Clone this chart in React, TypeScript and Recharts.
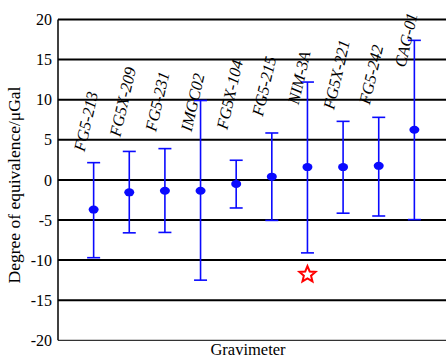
import React from 'react';
import {
  ComposedChart,
  Scatter,
  ErrorBar,
  XAxis,
  YAxis,
  ReferenceLine,
} from 'recharts';

const gravimeters = [
  'FG5-213',
  'FG5X-209',
  'FG5-231',
  'IMGC02',
  'FG5X-104',
  'FG5-215',
  'NIM-3A',
  'FG5X-221',
  'FG5-242',
  'CAG-01',
];
const doe = [-3.7, -1.55, -1.35, -1.35, -0.5, 0.4, 1.6, 1.6, 1.75, 6.25];
const lowerBound = [-9.7, -6.6, -6.55, -12.5, -3.5, -5.05, -9.1, -4.15, -4.5, -4.95];
const upperBound = [2.15, 3.55, 3.9, 9.9, 2.45, 5.85, 12.2, 7.3, 7.8, 17.4];
// height (μGal) where each rotated name starts
const labelAt = [3.45, 5.3, 5.95, 5.95, 6.2, 7.85, 9.3, 8.7, 9.3, 13.95];
const starAt = { name: 'NIM-3A', value: -11.8 };
const yTicks = [-20, -15, -10, -5, 0, 5, 10, 15, 20];

const BLUE = '#0a0aff';
const FONT = 'Liberation Serif, Times New Roman, serif';

const points = gravimeters.map((name, i) => ({
  x: i + 1,
  y: doe[i],
  err: [doe[i] - lowerBound[i], upperBound[i] - doe[i]],
}));
const labels = gravimeters.map((name, i) => ({ x: i + 1, y: labelAt[i], name }));
const star = [{ x: gravimeters.indexOf(starAt.name) + 1, y: starAt.value }];

const Dot = (props: any) => (
  <ellipse cx={props.cx} cy={props.cy} rx={5} ry={4} fill={BLUE} />
);

const NameLabel = (props: any) => {
  const x = props.cx - 9;
  const y = props.cy;
  return (
    <text
      x={x}
      y={y}
      transform={`rotate(-77 ${x} ${y})`}
      style={{ fontFamily: FONT, fontStyle: 'italic', fontSize: 16.5 }}
      fill="#000"
    >
      {props.payload.name}
    </text>
  );
};

const Star = (props: any) => {
  const { cx, cy } = props;
  const pts: string[] = [];
  for (let k = 0; k < 10; k++) {
    const r = k % 2 === 0 ? 8.5 : 3.8;
    const a = -Math.PI / 2 + (k * Math.PI) / 5;
    pts.push(`${cx + r * Math.cos(a)},${cy + r * Math.sin(a)}`);
  }
  return <polygon points={pts.join(' ')} fill="#fff" stroke="#ff0000" strokeWidth={2} />;
};

export default function App() {
  return (
    <div
      style={{
        position: 'absolute',
        left: 0,
        top: 0,
        width: 446,
        height: 358,
        overflow: 'hidden',
        background: '#fff',
        fontFamily: FONT,
      }}
    >
      <ComposedChart
        width={450}
        height={358}
        margin={{ top: 19.5, right: 0, bottom: 17.7, left: 0 }}
        style={{ fontFamily: FONT }}
      >
        <XAxis type="number" dataKey="x" domain={[0, 11]} hide />
        <YAxis
          type="number"
          dataKey="y"
          domain={[-20, 20]}
          ticks={yTicks}
          interval={0}
          width={58}
          axisLine={{ stroke: '#000', strokeWidth: 1.5 }}
          tickLine={false}
          tickSize={6}
          tickMargin={0}
          tick={{ fontSize: 16, fill: '#000', style: { fontFamily: FONT } }}
          label={{
            content: () => (
              <text
                x={20}
                y={185}
                transform="rotate(-90 20 185)"
                textAnchor="middle"
                style={{ fontFamily: FONT, fontSize: 17.5 }}
                fill="#000"
              >
                Degree of equivalence/μGal
              </text>
            ),
          }}
        />
        {yTicks.map((t) => (
          <ReferenceLine key={t} y={t} stroke="#000" strokeWidth={t === -20 ? 1 : 2} />
        ))}
        <Scatter data={points} shape={<Dot />} isAnimationActive={false}>
          <ErrorBar dataKey="err" direction="y" width={6.5} stroke={BLUE} strokeWidth={1.6} />
        </Scatter>
        <Scatter data={star} shape={<Star />} isAnimationActive={false} />
        <Scatter data={labels} shape={<NameLabel />} isAnimationActive={false} />
      </ComposedChart>
      <div
        style={{
          position: 'absolute',
          left: 248,
          top: 341,
          transform: 'translateX(-50%)',
          fontSize: 16.5,
          lineHeight: '18px',
          whiteSpace: 'nowrap',
          color: '#000',
        }}
      >
        Gravimeter
      </div>
    </div>
  );
}
